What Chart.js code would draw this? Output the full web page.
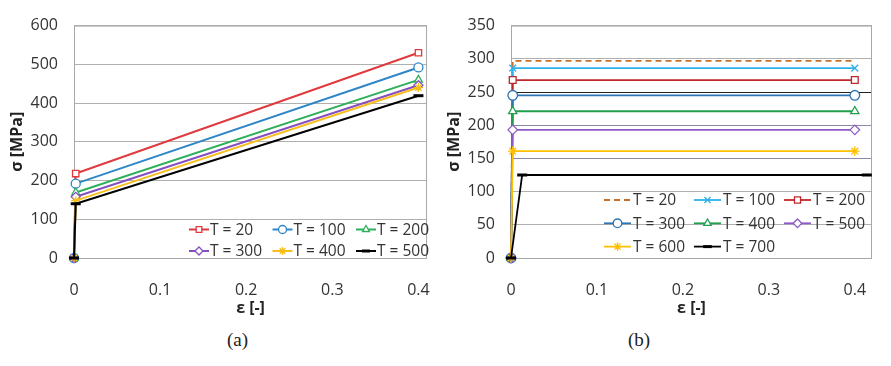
<!DOCTYPE html>
<html>
<head>
<meta charset="utf-8">
<script src="https://cdn.jsdelivr.net/npm/chart.js@4.4.1/dist/chart.umd.min.js"></script>
<style>
  body { margin: 0; background: #fff; }
  #wrap { position: relative; width: 891px; height: 366px; overflow: hidden; }
  .box { position: absolute; top: 0; }
  .cap { position: absolute; top: 329px; font: 19px "Liberation Serif", "DejaVu Serif", serif; color: #222; }
</style>
</head>
<body>
<div id="wrap">
  <div class="box" style="left:0"><canvas id="chartA" width="445" height="325"></canvas></div>
  <div class="box" style="left:445px"><canvas id="chartB" width="446" height="325"></canvas></div>
  <div class="cap" style="left:227px">(a)</div>
  <div class="cap" style="left:628px">(b)</div>
</div>
<script>
// ---- data ----
// (a) linear hardening
const labelsA = ["T = 20", "T = 100", "T = 200", "T = 300", "T = 400", "T = 500"];
const colorsA = ["#E0393E", "#2E86C8", "#2EAF5A", "#8450C0", "#F7BE1C", "#000000"];
const markersA = ["rect", "circle", "triangle", "rectRot", "star", "line"];
const strainA = [0, 0.002, 0.4];
const yieldA = [218, 192, 169, 158, 148, 140];
const endA = [530, 492, 460, 446, 440, 419];

// (b) perfectly plastic
const labelsB = ["T = 20", "T = 100", "T = 200", "T = 300", "T = 400", "T = 500", "T = 600", "T = 700"];
const colorsB = ["#C8702A", "#2EB0E8", "#C0272D", "#2E75B6", "#22A050", "#8E5CC4", "#FFC000", "#000000"];
const markersB = [false, "crossRot", "rect", "circle", "triangle", "rectRot", "star", "line"];
const yieldStrainB = [0.002, 0.002, 0.002, 0.002, 0.002, 0.002, 0.002, 0.013];
const endStrainB = [0.4, 0.4, 0.4, 0.4, 0.4, 0.4, 0.4, 0.414];
const stressB = [297, 286, 268, 245, 221, 193, 161, 125];

const tickFont = { family: "'Open Sans'", size: 16 };
const titleFont = { family: "'Open Sans'", size: 16, weight: "bold" };

// plot frame like excel
const framePlugin = {
  id: "frame",
  beforeDatasetsDraw(chart) {
    const { ctx, chartArea: a } = chart;
    ctx.save();
    ctx.strokeStyle = "#a8a8a8";
    ctx.lineWidth = 1;
    ctx.strokeRect(a.left + 0.5, a.top + 0.5, a.right - a.left - 1, a.bottom - a.top);
    ctx.restore();
  },
};

// legend sitting inside the plot area
const insideLegend = {
  id: "insideLegend",
  afterDatasetsDraw(chart, args, opts) {
    const ctx = chart.ctx;
    ctx.save();
    ctx.font = opts.fontSize + "px 'Open Sans'";
    ctx.textBaseline = "middle";
    chart.data.datasets.forEach((ds, i) => {
      const col = i % opts.cols;
      const row = Math.floor(i / opts.cols);
      const x = opts.x + col * opts.colW;
      const y = opts.y + row * opts.rowH;
      ctx.strokeStyle = ds.borderColor;
      ctx.lineWidth = ds.borderWidth;
      ctx.setLineDash(ds.borderDash || []);
      ctx.beginPath();
      ctx.moveTo(x, y);
      ctx.lineTo(x + opts.sampleW, y);
      ctx.stroke();
      ctx.setLineDash([]);
      if (ds.pointStyle) {
        const bw = ds.pointStyle === "line" ? 3 : 1.3;
        ctx.fillStyle = "#fff";
        ctx.lineWidth = bw;
        Chart.helpers.drawPoint(ctx, { pointStyle: ds.pointStyle, radius: opts.radius, borderWidth: bw, rotation: 0 },
          x + opts.sampleW / 2, y);
      }
      ctx.fillStyle = "#333";
      ctx.fillText(ds.label, x + opts.sampleW + opts.gap, y + 1);
    });
    ctx.restore();
  },
};

function makeScales(xMax, yMax, yStep, yWidth, yTitlePad, xHeight, gridColor) {
  return {
    x: {
      type: "linear",
      min: 0,
      max: xMax,
      grid: { display: false },
      border: { display: false },
      ticks: { stepSize: 0.1, includeBounds: false, padding: 15, color: "#333", font: tickFont },
      title: { display: true, text: "ε [-]", color: "#222", font: titleFont, padding: { top: 0, bottom: 7 } },
      afterFit: (s) => { s.height = xHeight; },
    },
    y: {
      min: 0,
      max: yMax,
      grid: { drawTicks: false, color: gridColor, lineWidth: 1 },
      border: { display: false },
      ticks: { stepSize: yStep, padding: 16, color: "#333", font: tickFont },
      title: { display: true, text: "σ [MPa]", color: "#222", font: titleFont, padding: { top: yTitlePad, bottom: 0 } },
      afterFit: (s) => { s.width = yWidth; },
    },
  };
}

const firstFilled = (col) => (c) => (c.dataIndex === 0 ? col : "#fff");

// ---- chart (a) ----
const dataA = labelsA.map((lab, i) => ({
  label: lab,
  data: [
    { x: strainA[0], y: 0 },
    { x: strainA[1], y: yieldA[i] },
    { x: strainA[2], y: endA[i] },
  ],
  borderColor: colorsA[i],
  borderWidth: 2,
  pointStyle: markersA[i],
  pointRadius: markersA[i] === "line" ? 5 : 4.5,
  pointBorderWidth: markersA[i] === "line" ? 3 : 1.3,
  pointBorderColor: colorsA[i],
  pointBackgroundColor: firstFilled(colorsA[i]),
  order: -i,
  clip: false,
}));

new Chart(document.getElementById("chartA"), {
  type: "line",
  data: { datasets: dataA },
  options: {
    responsive: false,
    animation: false,
    layout: { padding: { left: 0, top: 16, right: 13, bottom: 0 } },
    scales: makeScales(0.41, 600, 100, 74, 8, 67, "#b0b0b0"),
    plugins: {
      legend: { display: false },
      tooltip: { enabled: false },
      insideLegend: { x: 189, y: 229.5, cols: 3, colW: 83.5, rowH: 21.5, sampleW: 20, gap: 1, radius: 4, fontSize: 15.5 },
    },
  },
  plugins: [framePlugin, insideLegend],
});

// ---- chart (b) ----
const dataB = labelsB.map((lab, i) => ({
  label: lab,
  data: [
    { x: 0, y: 0 },
    { x: yieldStrainB[i], y: stressB[i] },
    { x: endStrainB[i], y: stressB[i] },
  ],
  borderColor: colorsB[i],
  borderWidth: 1.8,
  borderDash: i === 0 ? [6, 4] : [],
  pointStyle: markersB[i],
  pointRadius: markersB[i] ? (markersB[i] === "line" ? 5 : 4.8) : 0,
  pointBorderWidth: markersB[i] === "line" ? 3 : 1.3,
  pointBorderColor: colorsB[i],
  pointBackgroundColor: firstFilled(colorsB[i]),
  order: -i,
  clip: false,
}));

const gridB = (c) => {
  const v = c.tick ? c.tick.value : null;
  if (v === 250) return "#222";
  if (v === 200 || v === 150) return "#8c88a8";
  return "#b0b0b0";
};

new Chart(document.getElementById("chartB"), {
  type: "line",
  data: { datasets: dataB },
  options: {
    responsive: false,
    animation: false,
    layout: { padding: { left: 0, top: 12, right: 19, bottom: 0 } },
    scales: makeScales(0.42, 350, 50, 66, 0, 67, gridB),
    plugins: {
      legend: { display: false },
      tooltip: { enabled: false },
      insideLegend: { x: 159, y: 200, cols: 3, colW: 90, rowH: 23.3, sampleW: 27, gap: 2, radius: 4.3, fontSize: 15.5 },
    },
  },
  plugins: [framePlugin, insideLegend],
});
</script>
</body>
</html>
